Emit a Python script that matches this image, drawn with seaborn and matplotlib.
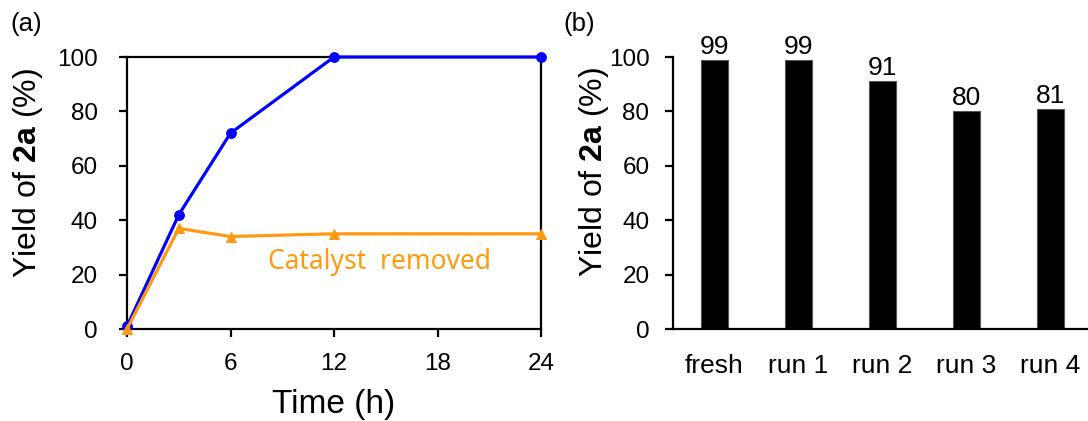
import matplotlib
matplotlib.use("Agg")
import matplotlib.pyplot as plt
import seaborn as sns
import pandas as pd

# Data
time_h = [0, 3, 6, 12, 24]
yield_with_cat = [1, 42, 72, 100, 100]
yield_removed = [0, 37, 34, 35, 35]
x_ticks = [0, 6, 12, 18, 24]
y_ticks = [0, 20, 40, 60, 80, 100]

runs = ["fresh", "run 1", "run 2", "run 3", "run 4"]
run_yields = [99, 99, 91, 80, 81]

sns.set_style("ticks")
plt.rcParams["font.family"] = ["Liberation Sans", "DejaVu Sans"]
plt.rcParams["mathtext.fontset"] = "custom"
plt.rcParams["mathtext.rm"] = "Liberation Sans"
plt.rcParams["mathtext.bf"] = "Liberation Sans:bold"
for k in ["text.color", "axes.labelcolor", "xtick.color", "ytick.color", "axes.edgecolor"]:
    plt.rcParams[k] = "black"

fig = plt.figure(figsize=(10.88, 4.21), dpi=100)
ax1 = fig.add_axes([127/1088, 1-329/421, (541-127)/1088, (329-57)/421])
ax2 = fig.add_axes([673/1088, 1-329/421, (1088-673)/1088, (329-57)/421])

df1 = pd.DataFrame({"t": time_h, "y": yield_with_cat})
df2 = pd.DataFrame({"t": time_h, "y": yield_removed})
sns.lineplot(data=df1, x="t", y="y", ax=ax1, color="#0000FF", lw=2.3,
             marker="o", markersize=7, markeredgecolor="#0000FF", clip_on=False, zorder=3)
sns.lineplot(data=df2, x="t", y="y", ax=ax1, color="#FF9A10", lw=2.3,
             marker="^", markersize=7, markeredgecolor="#FF9A10", clip_on=False, zorder=4)
ax1.set_xlim(0, 24)
ax1.set_ylim(0, 100)
ax1.set_xticks(x_ticks)
ax1.set_yticks(y_ticks)
ax1.set_xlabel("Time (h)", fontsize=24, va="center")
ax1.xaxis.set_label_coords(0.5, -0.276)
ax1.set_ylabel(r"Yield of $\mathbf{2a}$ (%)", fontsize=23, va="center")
ax1.yaxis.set_label_coords(-0.239, 0.575)
ax1.text(0.611, 0.246, "Catalyst  removed", transform=ax1.transAxes, ha="center", va="center",
         fontsize=19, color="#FF9A10", family=["Noto Sans", "DejaVu Sans"])
for s in ax1.spines.values():
    s.set_linewidth(1.6)
ax1.tick_params(axis="y", labelsize=17.5, length=6, width=1.6, direction="out", pad=15)
ax1.tick_params(axis="x", labelsize=17.5, length=6, width=1.6, direction="out", pad=11)
ax1.text(-0.282, 1.12, "(a)", transform=ax1.transAxes, fontsize=18.5, ha="left", va="center")

df3 = pd.DataFrame({"run": runs, "y": run_yields})
sns.barplot(data=df3, x="run", y="y", ax=ax2, color="black", width=0.32,
            edgecolor="#555555", linewidth=0.8, saturation=1)
ax2.set_xlim(-0.49, 4.45)
ax2.set_ylim(0, 100)
ax2.set_yticks(y_ticks)
sns.despine(ax=ax2)
for s in ax2.spines.values():
    s.set_linewidth(1.6)
ax2.tick_params(axis="y", labelsize=17.5, length=6, width=1.6, direction="out", pad=11)
ax2.tick_params(axis="x", labelsize=19, length=0, pad=18)
ax2.set_xlabel("")
ax2.set_ylabel(r"Yield of $\mathbf{2a}$ (%)", fontsize=23, va="center")
ax2.yaxis.set_label_coords(-0.190, 0.578)
for i, v in enumerate(run_yields):
    ax2.text(i, v + 0.4, str(v), ha="center", va="bottom", fontsize=19)
ax2.text(-0.263, 1.12, "(b)", transform=ax2.transAxes, fontsize=18.5, ha="left", va="center")

fig.savefig("out.png", dpi=100)
